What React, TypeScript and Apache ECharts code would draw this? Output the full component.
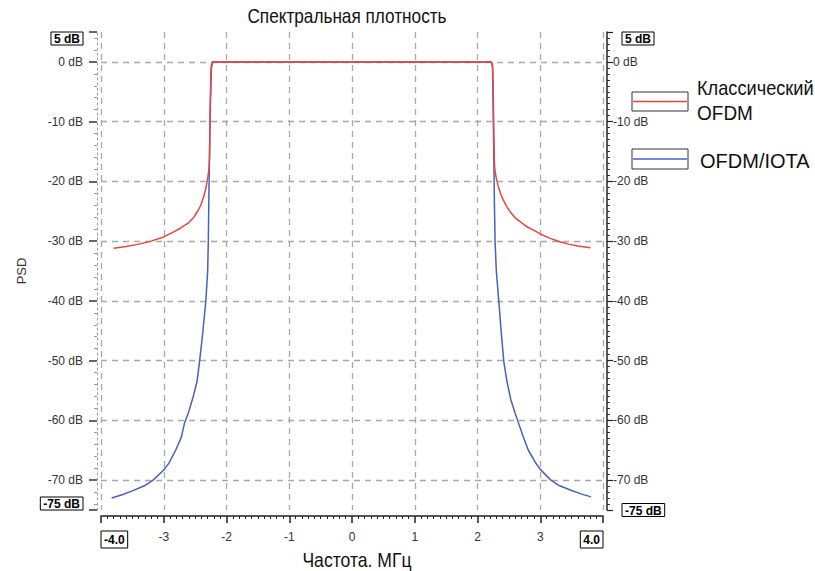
import React, { useEffect, useRef } from "react";
import * as echarts from "echarts";

// ---- data ----
const ofdmFreq = [
  -3.8, -3.6, -3.4, -3.2, -3.0, -2.85, -2.73, -2.6, -2.52, -2.46, -2.41, -2.37, -2.33, -2.3, -2.28, -2.27, -2.26, -2.25, -2.24, -2.22,
  -2.0, -1.0, 0.0, 1.0, 2.0,
  2.22, 2.24, 2.25, 2.26, 2.27, 2.28, 2.3, 2.33, 2.37, 2.41, 2.46, 2.52, 2.6, 2.7, 2.79, 2.9, 3.0, 3.15, 3.31, 3.45, 3.6, 3.8,
];
const ofdmPsd = [
  -31.2, -30.9, -30.5, -30.0, -29.3, -28.5, -27.8, -26.9, -26.0, -25.0, -24.0, -22.8, -21.2, -19.5, -18, -16, -8, -2, -0.5, 0,
  0, 0, 0, 0, 0,
  0, -0.5, -4, -12, -17, -18.3, -19.5, -20.8, -22.1, -23.1, -24.1, -25.1, -26.1, -26.9, -27.6, -28.2, -28.8, -29.5, -30.1, -30.5, -30.8, -31.1,
];
const iotaFreq = [
  -3.83, -3.65, -3.5, -3.3, -3.17, -3.0, -2.92, -2.81, -2.72, -2.67, -2.6, -2.53, -2.47, -2.43, -2.38, -2.33, -2.3, -2.29, -2.28, -2.27, -2.26, -2.24, -2.22,
  -2.0, -1.0, 0.0, 1.0, 2.0,
  2.22, 2.24, 2.25, 2.26, 2.27, 2.28, 2.3, 2.34, 2.38, 2.42, 2.47, 2.53, 2.6, 2.64, 2.72, 2.81, 2.92, 3.0, 3.17, 3.3, 3.49, 3.65, 3.81,
];
const iotaPsd = [
  -73, -72.4, -71.8, -70.9, -70, -68.3, -67.2, -65, -62.8, -60.5, -58.5, -56, -53.5, -50.2, -45.5, -40.1, -35, -30, -22, -15, -8, -1, 0,
  0, 0, 0, 0, 0,
  0, -1, -8, -16, -24, -30, -35, -40.1, -45.5, -50.2, -53.5, -56.5, -58.8, -60, -62.5, -65, -67, -68.2, -70, -70.9, -71.7, -72.3, -72.8,
];
const seriesNames = ["Классический OFDM", "OFDM/IOTA"];
const legendLines = [["Классический", "OFDM"], ["OFDM/IOTA"]];
const titleText = "Спектральная плотность";
const xName = "Частота. МГц";
const yName = "PSD";

const RED = "#e6463e";
const BLUE = "#4b5fbe";
const SANS = "'Liberation Sans', Arial, sans-serif";

const boxRich = {
  b: {
    fontWeight: "bold",
    fontSize: 12,
    color: "#000",
    fontFamily: SANS,
    borderColor: "#000",
    borderWidth: 1,
    padding: [1, 3, 0, 3],
  },
};
const boxRichX = {
  b: {
    fontWeight: "bold",
    fontSize: 12,
    color: "#000",
    fontFamily: SANS,
    borderColor: "#000",
    borderWidth: 1,
    padding: [3, 3, 2, 3],
  },
};
const rightRich = {
  ...boxRich,
  s: { width: 9, height: 1 },
};

const gridDash = { color: "#a8a8a8", type: [6, 5] as any, width: 1.3 };

export default function App() {
  const ref = useRef<HTMLDivElement>(null);
  useEffect(() => {
    if (!ref.current) return;
    const chart = echarts.init(ref.current, null, { renderer: "svg" });
    const redData = ofdmFreq.map((f, i) => [f, ofdmPsd[i]]);
    const blueData = iotaFreq.map((f, i) => [f, iotaPsd[i]]);
    const yFmtLeft = (v: number) =>
      v === 5 ? "{b|5 dB}" : v === -75 ? "{b|-75 dB}" : `${v} dB`;
    const yFmtRight = (v: number) =>
      v === 5 ? "{s|}{b|5 dB}" : v === -75 ? "{s|}{b|-75 dB}" : `${v} dB`;
    const bigText = (text: string, x: number, y: number, align: string, sx: number) => ({
      type: "text",
      x,
      y,
      scaleX: sx,
      style: {
        text,
        fontSize: 20,
        fontFamily: SANS,
        fill: "#111",
        align,
        verticalAlign: "middle",
      },
    });
    chart.setOption({
      animation: false,
      backgroundColor: "#fff",
      grid: { left: 101, right: 212, top: 32, bottom: 61, containLabel: false, outerBoundsMode: "none" },
      xAxis: {
        type: "value",
        min: -4,
        max: 4,
        interval: 1,
        position: "bottom",
        offset: 6,
        axisLine: { show: true, onZero: false, lineStyle: { color: "#222", width: 1.5 } },
        axisTick: { show: true, length: 7, lineStyle: { color: "#222", width: 1.5 } },
        minorTick: { show: true, splitNumber: 10, length: 3, lineStyle: { color: "#222", width: 1 } },
        axisLabel: {
          margin: 15,
          color: "#333",
          fontSize: 12,
          fontFamily: SANS,
          showMinLabel: true,
          showMaxLabel: true,
          alignMinLabel: "left",
          alignMaxLabel: "right",
          formatter: (v: number) => (v === -4 ? "{b|-4.0}" : v === 4 ? "{b|4.0}" : String(v)),
          rich: boxRichX,
        },
        splitLine: { show: true, lineStyle: gridDash },
      },
      yAxis: [
        {
          type: "value",
          min: -75,
          max: 5,
          splitNumber: 8,
          position: "left",
          offset: 4,
          axisLine: { show: true, onZero: false, lineStyle: { color: "#9a9a9a", type: [2, 3], width: 1 } },
          axisTick: { show: true, length: 8, lineStyle: { color: "#333", width: 1.5 } },
          minorTick: { show: true, splitNumber: 5, length: 3, lineStyle: { color: "#999", width: 1 } },
          axisLabel: {
            margin: 14,
            color: "#333",
            fontSize: 12,
            fontFamily: SANS,
            showMinLabel: true,
            showMaxLabel: true,
            verticalAlignMinLabel: "bottom",
            verticalAlignMaxLabel: "top",
            formatter: yFmtLeft,
            rich: boxRich,
          },
          splitLine: { show: true, showMinLine: false, showMaxLine: false, lineStyle: gridDash },
          name: yName,
          nameLocation: "middle",
          nameGap: 69,
          nameRotate: 90,
          nameTextStyle: { fontSize: 13, fontFamily: SANS, color: "#333" },
        },
        {
          type: "value",
          min: -75,
          max: 5,
          splitNumber: 8,
          position: "right",
          offset: 4,
          axisLine: { show: true, onZero: false, lineStyle: { color: "#222", width: 1.5 } },
          axisTick: { show: true, length: 6, lineStyle: { color: "#222", width: 1.2 } },
          minorTick: { show: true, splitNumber: 10, length: 3, lineStyle: { color: "#333", width: 1 } },
          axisLabel: {
            margin: 6,
            color: "#333",
            fontSize: 12,
            fontFamily: SANS,
            showMinLabel: true,
            showMaxLabel: true,
            verticalAlignMaxLabel: "top",
            formatter: yFmtRight,
            rich: rightRich,
          },
          splitLine: { show: false },
        },
      ],
      series: [
        {
          name: seriesNames[1],
          type: "line",
          data: blueData,
          showSymbol: false,
          symbol: "none",
          lineStyle: { color: BLUE, width: 1.5 },
          yAxisIndex: 0,
        },
        {
          name: seriesNames[0],
          type: "line",
          data: redData,
          showSymbol: false,
          symbol: "none",
          lineStyle: { color: RED, width: 1.5 },
          yAxisIndex: 0,
        },
      ],
      graphic: [
        bigText(titleText, 347, 16, "center", 0.86),
        bigText(xName, 357, 560, "center", 0.88),
        {
          type: "rect",
          shape: { x: 632, y: 92, width: 56, height: 19 },
          style: { fill: "#fff", stroke: "#333", lineWidth: 1 },
        },
        {
          type: "line",
          z: 10,
          shape: { x1: 633, y1: 101.5, x2: 687, y2: 101.5 },
          style: { stroke: RED, lineWidth: 1.5 },
        },
        bigText(legendLines[0][0], 697, 88, "left", 0.91),
        bigText(legendLines[0][1], 697, 113, "left", 0.95),
        {
          type: "rect",
          shape: { x: 632, y: 149, width: 56, height: 20 },
          style: { fill: "#fff", stroke: "#333", lineWidth: 1 },
        },
        {
          type: "line",
          z: 10,
          shape: { x1: 633, y1: 159, x2: 687, y2: 159 },
          style: { stroke: BLUE, lineWidth: 1.5 },
        },
        bigText(legendLines[1][0], 700, 161, "left", 1),
      ],
    });
    return () => chart.dispose();
  }, []);
  return (
    <div
      ref={ref}
      style={{ position: "fixed", left: 0, top: 0, width: 815, height: 571, background: "#fff" }}
    />
  );
}
